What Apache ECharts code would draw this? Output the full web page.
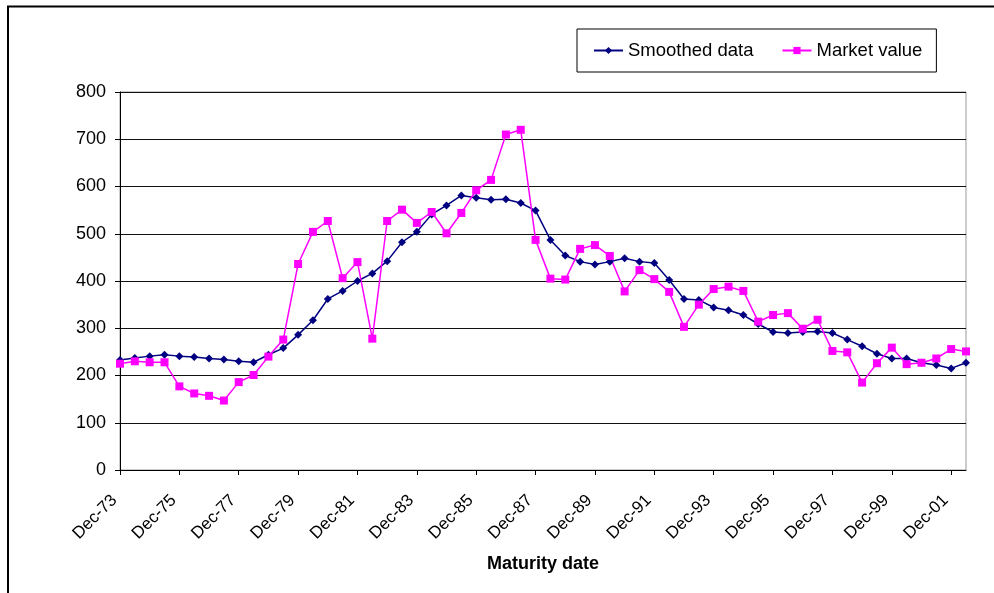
<!DOCTYPE html>
<html>
<head>
<meta charset="utf-8">
<script src="https://cdn.jsdelivr.net/npm/echarts@6/dist/echarts.min.js"></script>
<style>
  html, body { margin: 0; padding: 0; background: #fff; }
  #chart { width: 994px; height: 593px; }
</style>
</head>
<body>
<div id="chart"></div>
<script>
// Half-yearly maturity dates
var maturityDates = [
  'Dec-73','Jun-74','Dec-74','Jun-75','Dec-75','Jun-76','Dec-76','Jun-77','Dec-77','Jun-78',
  'Dec-78','Jun-79','Dec-79','Jun-80','Dec-80','Jun-81','Dec-81','Jun-82','Dec-82','Jun-83',
  'Dec-83','Jun-84','Dec-84','Jun-85','Dec-85','Jun-86','Dec-86','Jun-87','Dec-87','Jun-88',
  'Dec-88','Jun-89','Dec-89','Jun-90','Dec-90','Jun-91','Dec-91','Jun-92','Dec-92','Jun-93',
  'Dec-93','Jun-94','Dec-94','Jun-95','Dec-95','Jun-96','Dec-96','Jun-97','Dec-97','Jun-98',
  'Dec-98','Jun-99','Dec-99','Jun-00','Dec-00','Jun-01','Dec-01','Jun-02'
];

var smoothedData = [
  233,237,241,244,241,239,236,234,230,228,
  244,258,286,317,362,379,400,416,442,482,
  504,541,560,581,576,572,573,565,549,487,
  454,441,435,441,448,441,438,402,362,360,
  344,338,328,309,292,290,292,293,290,276,
  262,246,236,236,227,222,215,227
];

var marketValue = [
  225,230,228,228,177,162,157,147,186,201,
  240,276,436,504,527,406,440,278,527,551,
  523,546,501,544,592,614,710,720,487,405,
  403,468,476,453,378,423,404,377,303,350,
  383,388,379,314,328,332,299,318,252,249,
  185,226,259,224,227,236,256,251
];

var yTicks = [0, 100, 200, 300, 400, 500, 600, 700, 800];

var FONT = '"Liberation Sans", Arial, sans-serif';

var chart = echarts.init(document.getElementById('chart'), null, { renderer: 'canvas' });

chart.setOption({
  animation: false,
  backgroundColor: '#fff',
  textStyle: { fontFamily: FONT, color: '#000' },
  graphic: [{
    type: 'rect',
    shape: { x: 8, y: 6.5, width: 1000, height: 600 },
    style: { fill: 'none', stroke: '#000', lineWidth: 2 },
    silent: true
  }],
  legend: {
    left: 577,
    top: 29,
    orient: 'horizontal',
    backgroundColor: '#fff',
    borderColor: '#000',
    borderWidth: 1,
    padding: [12, 14, 12, 16],
    itemGap: 28,
    itemWidth: 29,
    itemHeight: 9,
    textStyle: { fontFamily: FONT, fontSize: 18.5, color: '#000' },
    data: ['Smoothed data', 'Market value']
  },
  grid: {
    left: 120,
    right: 28,
    top: 92,
    bottom: 123,
    show: true,
    borderColor: '#999',
    borderWidth: 1,
    containLabel: false
  },
  xAxis: {
    type: 'category',
    data: maturityDates,
    boundaryGap: false,
    name: 'Maturity date',
    nameLocation: 'middle',
    nameGap: 85,
    nameTextStyle: { fontFamily: FONT, fontSize: 18, fontWeight: 'bold', color: '#000' },
    axisLine: { show: true, lineStyle: { color: '#000', width: 1 } },
    axisTick: { show: true, interval: 3, length: 5, lineStyle: { color: '#000' } },
    axisLabel: {
      interval: 3,
      rotate: 45,
      margin: 22,
      padding: [0, 8, 0, 0],
      fontFamily: FONT,
      fontSize: 17,
      color: '#000'
    },
    splitLine: { show: false }
  },
  yAxis: {
    type: 'value',
    min: yTicks[0],
    max: yTicks[yTicks.length - 1],
    interval: 100,
    axisLine: { show: true, lineStyle: { color: '#000', width: 1 } },
    axisTick: { show: true, length: 5, lineStyle: { color: '#000' } },
    axisLabel: { margin: 14, fontFamily: FONT, fontSize: 18, color: '#000' },
    splitLine: { show: true, lineStyle: { color: '#111', width: 1 } }
  },
  series: [
    {
      name: 'Smoothed data',
      type: 'line',
      data: smoothedData,
      symbol: 'diamond',
      symbolSize: 8,
      showAllSymbol: true,
      itemStyle: { color: '#000080' },
      lineStyle: { color: '#000080', width: 1.5 }
    },
    {
      name: 'Market value',
      type: 'line',
      data: marketValue,
      symbol: 'rect',
      symbolSize: 8,
      showAllSymbol: true,
      itemStyle: { color: '#FF00FF' },
      lineStyle: { color: '#FF00FF', width: 1.5 }
    }
  ]
});
</script>
</body>
</html>
